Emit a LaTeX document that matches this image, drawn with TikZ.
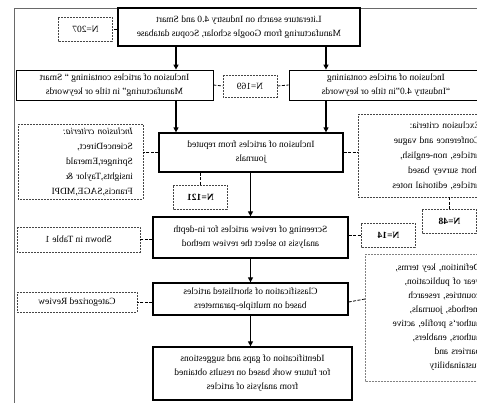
\documentclass[tikz,border=0pt]{standalone}
\usepackage{fontspec}
\setmainfont{Liberation Serif}
\usetikzlibrary{arrows.meta, positioning, calc}
\definecolor{frameline}{RGB}{105, 105, 105}
\definecolor{countline}{RGB}{70, 70, 70}
\definecolor{noteline}{RGB}{130, 130, 130}
\tikzset{
  mainbox/.style={draw=black, line width=1.3pt, align=center, inner sep=2pt, font=\fontsize{9.5}{14}\selectfont},
  searchbox/.style={draw=black, line width=0.8pt, align=center, inner sep=2pt, font=\fontsize{9.5}{14}\selectfont},
  countbox/.style={draw=countline, dashed, dash pattern=on 2pt off 1pt, line width=0.8pt, minimum width=54pt, minimum height=24pt, inner sep=1pt, font=\fontsize{9.5}{14}\selectfont},
  notebox/.style={draw=countline, dashed, dash pattern=on 2pt off 1pt, line width=0.8pt, align=left, font=\fontsize{9.5}{15}\selectfont},
  flow/.style={-{Triangle[length=5pt, width=5pt]}, line width=1.3pt},
  link/.style={dashed, dash pattern=on 3pt off 1.5pt, line width=0.8pt}
}
\begin{document}
\begin{tikzpicture}[xscale=-1, x=1pt, y=-1pt, every node/.style={transform shape}]
  \useasboundingbox (0,0) rectangle (477,402);
  % outer frame
  \draw[frameline, line width=0.8pt] (-5,8) -- (463,8) -- (463,410);

  % main column
  \node[mainbox, minimum width=242pt, minimum height=38pt] (search) at (238,27)
    {Literature search on Industry 4.0 and Smart\\Manufacturing from Google scholar, Scopus database};
  \node[searchbox, minimum width=197pt, minimum height=30pt] (smart) at (362.5,85)
    {Inclusion of articles containing `` Smart\\Manufacturing''  in title or keywords};
  \node[searchbox, minimum width=194pt, minimum height=30pt] (industry) at (91,85)
    {Inclusion of articles containing\\``Industry 4.0''in title or keywords};
  \node[mainbox, minimum width=184pt, minimum height=39pt] (journals) at (226,152.5)
    {Inclusion of articles from reputed\\journals};
  \node[mainbox, minimum width=195pt, minimum height=41pt] (screening) at (226.5,237.5)
    {Screening of review articles for in-depth\\analysis to select the review method};
  \node[mainbox, minimum width=195pt, minimum height=32pt] (classify) at (226.5,299)
    {Classification of shortlisted articles\\based on multiple-parameters};
  \node[mainbox, minimum width=199pt, minimum height=53pt] (gaps) at (224.5,373.5)
    {Identification of gaps and suggestions\\for future work based on results obtained\\from analysis of articles};

  % counts
  \node[countbox] (n207) at (391.5,29) {N=207};
  \node[countbox, minimum height=22pt] (n169) at (227,86) {N=169};
  \node[countbox, font=\fontsize{9.5}{14}\selectfont\bfseries] (n121) at (276.5,197) {N=121};
  \node[countbox, font=\fontsize{9.5}{14}\selectfont\bfseries] (n48) at (27.5,221) {N=48};
  \node[countbox, font=\fontsize{9.5}{14}\selectfont\bfseries] (n14) at (88.5,235) {N=14};

  % criteria and notes
  \node[notebox, text width=105pt, inner xsep=10pt, minimum height=75pt] (incl) at (396.5,161.5)
    {\textit{Inclusion criteria:}\\ScienceDirect,\\Springer,Emerald\\insights,Taylor \&\\Francis,SAGE,MDPI};
  \node[notebox, anchor=east, text width=118pt, inner xsep=4pt, minimum height=83pt] (excl) at (119,155.5)
    {Exclusion criteria:\\Conference and vague\\articles, non-english,\\short survey based\\articles,  editorial notes};
  \node[notebox, minimum width=123pt, minimum height=25pt, align=center] (table) at (398.5,239.5) {Shown in Table 1};
  \node[notebox, minimum width=120pt, minimum height=20pt, align=center] (review) at (400,302) {Categorized Review};
  \node[notebox, draw=noteline, anchor=east, text width=112pt, inner xsep=3pt, minimum height=127pt,
        font=\fontsize{9.5}{14}\selectfont] (params) at (112,317.5)
    {Definition, key terms,\\year of publication,\\countries, research\\methods, journals,\\author`s profile, active\\authors, enablers,\\barriers and\\sustainability};

  % arrows
  \coordinate (laneA) at (301,0);
  \coordinate (laneB) at (151,0);
  \draw[flow] (search.south -| laneA) -- (smart.north -| laneA);
  \draw[flow] (search.south -| laneB) -- (industry.north -| laneB);
  \draw[flow] (smart.south -| laneA) -- (journals.north -| laneA);
  \draw[flow] (industry.south -| laneB) -- (journals.north -| laneB);
  \draw[flow] (journals.south -| screening) -- (screening.north);
  \draw[flow] (screening.south) -- (classify.north);
  \draw[flow] (classify.south) -- (gaps.north -| classify);

  % dashed links
  \draw[link] (search.east |- n207) -- (n207.west);
  \draw[link] (smart.west) -- (n169.east);
  \draw[link] (n169.west) -- (industry.east);
  \draw[link] (journals.east) -- (journals.east -| incl.west);
  \draw[link] (journals.west) -- (journals.west -| excl.east);
  \draw[link] (journals.south -| n121) -- (n121.north);
  \draw[link] (excl.south -| n48) -- (n48.north);
  \draw[link] (screening.east |- table) -- (table.west);
  \draw[link] (screening.west |- n14) -- (n14.east);
  \draw[link] (classify.east |- review) -- (review.west);
  \draw[link] (classify.west |- review) -- (classify.west -| params.east);
\end{tikzpicture}
\end{document}
